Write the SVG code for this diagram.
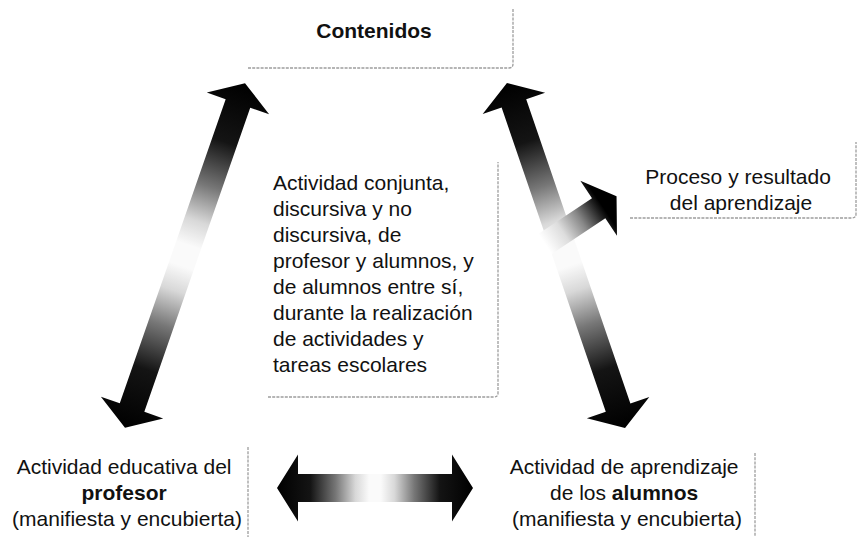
<svg xmlns="http://www.w3.org/2000/svg" width="858" height="540" viewBox="0 0 858 540">
  <style>
    .t { font-family: "Liberation Sans", Arial, sans-serif; font-size: 21px; fill: #111; }
    .b { font-weight: bold; }
    .edge { fill: none; stroke: #9d9d9d; stroke-width: 1.3; stroke-dasharray: 3 1.2; }
  </style>
  <defs>
    <linearGradient id="dbl" x1="0" y1="0" x2="1" y2="0">
      <stop offset="0" stop-color="#000"/>
      <stop offset="0.17" stop-color="#141414"/>
      <stop offset="0.3" stop-color="#777"/>
      <stop offset="0.4" stop-color="#d8d8d8"/>
      <stop offset="0.47" stop-color="#fafafa"/>
      <stop offset="0.53" stop-color="#fafafa"/>
      <stop offset="0.6" stop-color="#d8d8d8"/>
      <stop offset="0.7" stop-color="#777"/>
      <stop offset="0.83" stop-color="#141414"/>
      <stop offset="1" stop-color="#000"/>
    </linearGradient>
    <linearGradient id="sgl" x1="0" y1="0" x2="1" y2="0">
      <stop offset="0" stop-color="#fff"/>
      <stop offset="0.25" stop-color="#ddd"/>
      <stop offset="0.5" stop-color="#888"/>
      <stop offset="0.72" stop-color="#222"/>
      <stop offset="0.8" stop-color="#000"/>
    </linearGradient>
  </defs>
  <rect width="858" height="540" fill="#fff"/>

  <g id="connectors">
    <!-- profesor <-> contenidos -->
    <polygon transform="translate(185 255.5) rotate(-70.8)" fill="url(#dbl)"
      points="-182.5,0 -161,-33 -161,-13 161,-13 161,-33 182.5,0 161,33 161,13 -161,13 -161,33"/>
    <!-- alumnos <-> contenidos -->
    <polygon transform="translate(566 255.5) rotate(71.1)" fill="url(#dbl)"
      points="-182.3,0 -160.8,-33 -160.8,-13 160.8,-13 160.8,-33 182.3,0 160.8,33 160.8,13 -160.8,13 -160.8,33"/>
    <!-- profesor <-> alumnos -->
    <polygon transform="translate(375 488)" fill="url(#dbl)"
      points="-98,0 -77,-33.5 -77,-14 77,-14 77,-33.5 98,0 77,33.5 77,14 -77,14 -77,33.5"/>
    <!-- to proceso y resultado -->
    <polygon transform="translate(545 244) rotate(-33.7)" fill="url(#sgl)"
      points="0,-12 64.5,-12 64.5,-33 86,0 64.5,33 64.5,12 0,12"/>
  </g>

  <g id="node-contenidos">
    <path class="edge" d="M248 68 L509 68 Q513 68 513 64 L513 8"/>
    <text class="t b" x="374" y="38" text-anchor="middle">Contenidos</text>
  </g>

  <g id="node-actividad-conjunta">
    <path class="edge" d="M268 397 L494 397 Q498 397 498 393 L498 162"/>
    <text class="t" x="273" y="190">
      <tspan x="273" y="190">Actividad conjunta,</tspan>
      <tspan x="273" y="216">discursiva y no</tspan>
      <tspan x="273" y="242">discursiva, de</tspan>
      <tspan x="273" y="268">profesor y alumnos, y</tspan>
      <tspan x="273" y="294">de alumnos entre sí,</tspan>
      <tspan x="273" y="320">durante la realización</tspan>
      <tspan x="273" y="346">de actividades y</tspan>
      <tspan x="273" y="372">tareas escolares</tspan>
    </text>
  </g>

  <g id="node-proceso">
    <path class="edge" d="M630 218 L852 218 Q856 218 856 214 L856 142"/>
    <text class="t" text-anchor="middle">
      <tspan x="741" y="184">Proceso y resultado</tspan>
      <tspan x="741" y="210">del aprendizaje</tspan>
    </text>
  </g>

  <g id="node-profesor">
    <path class="edge" d="M248 447 L248 537"/>
    <text class="t" text-anchor="middle">
      <tspan x="127" y="474">Actividad educativa del</tspan>
      <tspan x="127" y="500" class="b">profesor</tspan>
      <tspan x="127" y="526">(manifiesta y encubierta)</tspan>
    </text>
  </g>

  <g id="node-alumnos">
    <path class="edge" d="M755 453 L755 537"/>
    <text class="t" text-anchor="middle">
      <tspan x="627" y="474">Actividad de aprendizaje</tspan>
      <tspan x="627" y="500">de los <tspan class="b">alumnos</tspan></tspan>
      <tspan x="627" y="526">(manifiesta y encubierta)</tspan>
    </text>
  </g>
</svg>
